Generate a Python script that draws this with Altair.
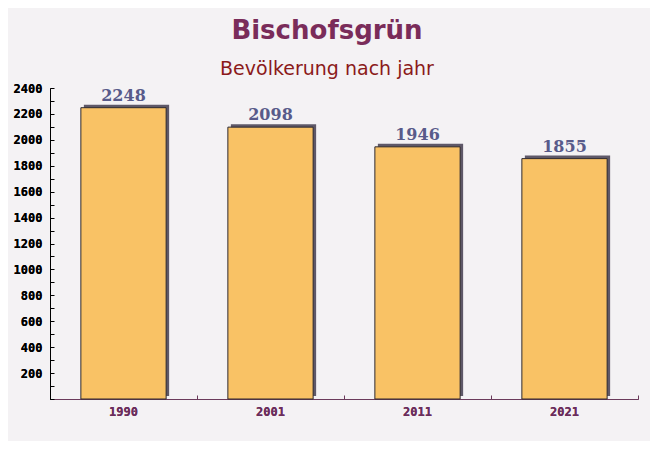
import altair as alt
import pandas as pd

years = ["1990", "2001", "2011", "2021"]
population = [2248, 2098, 1946, 1855]
major_ticks = [200, 400, 600, 800, 1000, 1200, 1400, 1600, 1800, 2000, 2200, 2400]
minor_ticks = list(range(0, 2500, 100))

df = pd.DataFrame({"year": years, "pop": population})

x_enc = alt.X("year:N", sort=years,
              scale=alt.Scale(paddingInner=0, paddingOuter=0),
              axis=alt.Axis(title=None, orient="bottom", labelAngle=0,
                            labelFont="DejaVu Sans Mono", labelFontWeight="bold",
                            labelFontSize=12, labelColor="#6B2D5B", labelPadding=7,
                            domainColor="#6B3A5B", domainWidth=1, ticks=False))
y_enc = alt.Y("pop:Q", scale=alt.Scale(domain=[0, 2400], nice=False),
              axis=alt.Axis(title=None, orient="left", values=major_ticks, format="d",
                            labelFont="DejaVu Sans Mono", labelFontWeight="bold",
                            labelFontSize=12, labelColor="#000000", labelPadding=8,
                            domainColor="#000000", ticks=False, grid=False))

shadow = alt.Chart(df).mark_bar(width=alt.RelativeBandSize(0.58), color="#5E5868",
                                xOffset=3, yOffset=-3).encode(x=x_enc, y=y_enc)

bars = alt.Chart(df).mark_bar(width=alt.RelativeBandSize(0.58), color="#F9C265",
                              stroke="#2E2A30", strokeWidth=1).encode(x=x_enc, y=y_enc)

labels = alt.Chart(df).mark_text(baseline="bottom", dy=-4, font="DejaVu Serif",
                                 fontWeight="bold", fontSize=16, color="#585A8A").encode(
    x=alt.X("year:N", sort=years, axis=None),
    y=alt.Y("pop:Q", axis=None),
    text="pop:Q")

tick_layer = alt.Chart(df).mark_bar(opacity=0).encode(
    x=alt.X("year:N", sort=years,
            axis=alt.Axis(title=None, orient="bottom", offset=-4, tickSize=4, labels=False,
                          domain=False, tickBand="extent", tickColor="#6B3A5B")),
    y=alt.Y("pop:Q", axis=alt.Axis(title=None, orient="left", offset=-4, tickSize=4,
                                   values=minor_ticks, labels=False, domain=False,
                                   tickColor="#000000", grid=False)))

chart = alt.layer(shadow, bars, labels, tick_layer).resolve_axis(
    x="independent", y="independent"
).properties(
    width=588, height=311,
    autosize=alt.AutoSizeParams(type="none"),
    padding={"left": 42, "top": 80, "right": 12, "bottom": 42},
    background="#F4F2F4",
    title=alt.TitleParams(
        text="Bischofsgrün", subtitle="Bevölkerung nach jahr",
        anchor="middle", dx=-17, offset=3,
        font="DejaVu Sans", fontSize=26, fontWeight="bold", color="#7A2C5A",
        subtitleFont="DejaVu Sans", subtitleFontSize=19, subtitleColor="#8B1A1A",
        subtitlePadding=16),
).configure_view(stroke=None)

chart.save("out.html", embed_options={"renderer": "svg", "actions": False})
